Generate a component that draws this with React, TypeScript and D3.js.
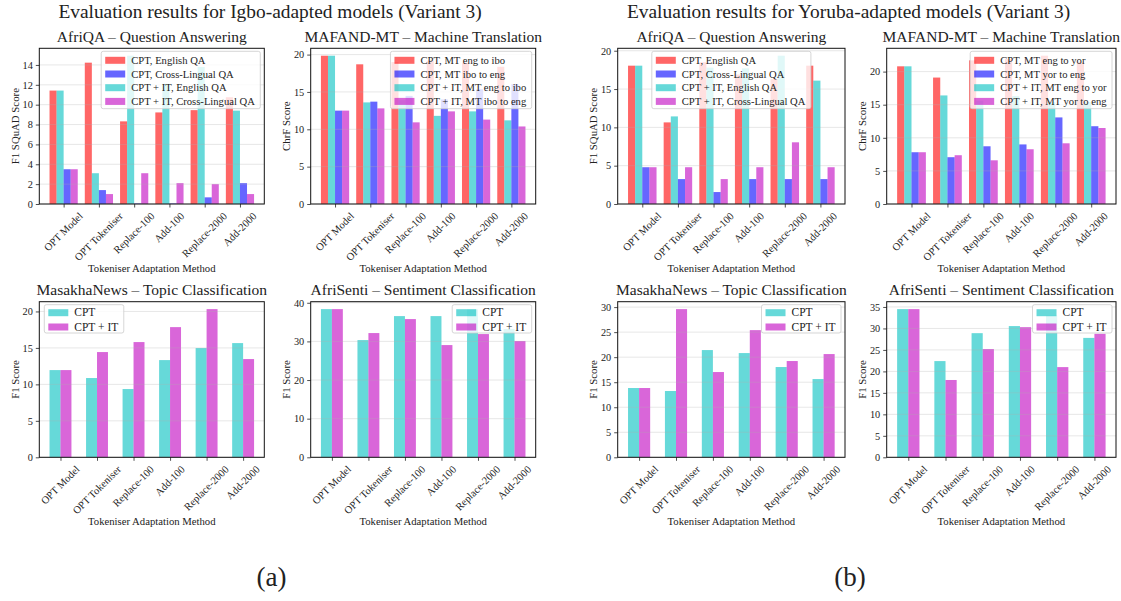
import React, { useEffect, useRef } from "react";
import * as d3 from "d3";

// ---------- data ----------
const categories = ["OPT Model", "OPT Tokeniser", "Replace-100", "Add-100", "Replace-2000", "Add-2000"];

// Igbo – AfriQA (F1 SQuAD)
const igboQaCptEnglish = [11.42, 14.23, 8.32, 9.22, 9.45, 10.75];
const igboQaCptCross = [3.5, 1.4, 0.05, 0.05, 0.67, 2.1];
const igboQaItEnglish = [11.42, 3.1, 14.93, 12.1, 13.8, 9.4];
const igboQaItCross = [3.5, 1.0, 3.1, 2.1, 2.0, 1.0];

// Igbo – MAFAND-MT (ChrF)
const igboMtCptEngIbo = [19.85, 18.7, 19.0, 19.2, 18.9, 18.37];
const igboMtCptIboEng = [12.5, 13.7, 14.47, 14.0, 15.36, 16.05];
const igboMtItEngIbo = [19.85, 13.6, 13.9, 11.8, 12.4, 11.2];
const igboMtItIboEng = [12.5, 12.8, 10.93, 12.4, 11.3, 10.38];

// Igbo – MasakhaNews (F1)
const igboNewsCpt = [11.96, 10.87, 9.36, 13.33, 14.98, 15.66];
const igboNewsIt = [11.96, 14.43, 15.8, 17.85, 20.32, 13.47];

// Igbo – AfriSenti (F1)
const igboSentiCpt = [38.36, 30.34, 36.55, 36.55, 38.3, 33.2];
const igboSentiIt = [38.36, 32.16, 35.78, 29.05, 31.9, 30.1];

// Yoruba – AfriQA (F1 SQuAD)
const yorQaCptEnglish = [18.05, 10.65, 18.5, 16.9, 16.3, 18.05];
const yorQaCptCross = [4.8, 3.25, 1.56, 3.25, 3.25, 3.25];
const yorQaItEnglish = [18.05, 11.43, 17.8, 17.7, 19.35, 16.1];
const yorQaItCross = [4.8, 4.8, 3.25, 4.8, 8.05, 4.8];

// Yoruba – MAFAND-MT (ChrF)
const yorMtCptEngYor = [20.8, 19.1, 21.7, 21.9, 22.4, 21.5];
const yorMtCptYorEng = [7.82, 7.07, 8.72, 9.0, 13.08, 11.75];
const yorMtItEngYor = [20.8, 16.4, 15.6, 16.3, 15.4, 15.4];
const yorMtItYorEng = [7.82, 7.37, 6.6, 8.27, 9.17, 11.48];

// Yoruba – MasakhaNews (F1)
const yorNewsCpt = [13.84, 13.24, 21.42, 20.82, 18.03, 15.63];
const yorNewsIt = [13.84, 29.6, 17.03, 25.4, 19.23, 20.62];

// Yoruba – AfriSenti (F1)
const yorSentiCpt = [34.5, 22.4, 28.9, 30.55, 33.0, 27.8];
const yorSentiIt = [34.5, 18.0, 25.2, 30.3, 21.0, 28.75];

// tick labels
const ticksQaIgbo = [0, 2, 4, 6, 8, 10, 12, 14];
const ticks0to20by5 = [0, 5, 10, 15, 20];
const ticks0to40by10 = [0, 10, 20, 30, 40];
const ticks0to30by5 = [0, 5, 10, 15, 20, 25, 30];
const ticks0to35by5 = [0, 5, 10, 15, 20, 25, 30, 35];

// ---------- styling / layout ----------
const RED = "#ff0000";
const BLUE = "#0000ff";
const CYAN = "#00bfbf";
const MAG = "#bf00bf";
const FONT = "'Liberation Serif', 'Times New Roman', serif";
const TXT = "#222";

type Series = { label: string; color: string; values: number[] };
type Panel = {
  title: string;
  ylabel: string;
  bars: Series[];
  legend: number[];
  loc: "ur" | "ul" | "uc";
  ticks: number[];
  box: [number, number, number, number];
};

const TOP: [number, number] = [48.3, 204];
const BOT: [number, number] = [301.7, 457.3];

const panels: Panel[] = [
  {
    title: "AfriQA – Question Answering",
    ylabel: "F1 SQuAD Score",
    bars: [
      { label: "CPT, English QA", color: RED, values: igboQaCptEnglish },
      { label: "CPT + IT, English QA", color: CYAN, values: igboQaItEnglish },
      { label: "CPT, Cross-Lingual QA", color: BLUE, values: igboQaCptCross },
      { label: "CPT + IT, Cross-Lingual QA", color: MAG, values: igboQaItCross },
    ],
    legend: [0, 2, 1, 3],
    loc: "ur",
    ticks: ticksQaIgbo,
    box: [39.3, TOP[0], 264.3, TOP[1]],
  },
  {
    title: "MAFAND-MT – Machine Translation",
    ylabel: "ChrF Score",
    bars: [
      { label: "CPT, MT eng to ibo", color: RED, values: igboMtCptEngIbo },
      { label: "CPT + IT, MT eng to ibo", color: CYAN, values: igboMtItEngIbo },
      { label: "CPT, MT ibo to eng", color: BLUE, values: igboMtCptIboEng },
      { label: "CPT + IT, MT ibo to eng", color: MAG, values: igboMtItIboEng },
    ],
    legend: [0, 2, 1, 3],
    loc: "ur",
    ticks: ticks0to20by5,
    box: [310.7, TOP[0], 535.7, TOP[1]],
  },
  {
    title: "AfriQA – Question Answering",
    ylabel: "F1 SQuAD Score",
    bars: [
      { label: "CPT, English QA", color: RED, values: yorQaCptEnglish },
      { label: "CPT + IT, English QA", color: CYAN, values: yorQaItEnglish },
      { label: "CPT, Cross-Lingual QA", color: BLUE, values: yorQaCptCross },
      { label: "CPT + IT, Cross-Lingual QA", color: MAG, values: yorQaItCross },
    ],
    legend: [0, 2, 1, 3],
    loc: "uc",
    ticks: ticks0to20by5,
    box: [617.7, TOP[0], 845, TOP[1]],
  },
  {
    title: "MAFAND-MT – Machine Translation",
    ylabel: "ChrF Score",
    bars: [
      { label: "CPT, MT eng to yor", color: RED, values: yorMtCptEngYor },
      { label: "CPT + IT, MT eng to yor", color: CYAN, values: yorMtItEngYor },
      { label: "CPT, MT yor to eng", color: BLUE, values: yorMtCptYorEng },
      { label: "CPT + IT, MT yor to eng", color: MAG, values: yorMtItYorEng },
    ],
    legend: [0, 2, 1, 3],
    loc: "ur",
    ticks: ticks0to20by5,
    box: [886.7, TOP[0], 1116, TOP[1]],
  },
  {
    title: "MasakhaNews – Topic Classification",
    ylabel: "F1 Score",
    bars: [
      { label: "CPT", color: CYAN, values: igboNewsCpt },
      { label: "CPT + IT", color: MAG, values: igboNewsIt },
    ],
    legend: [0, 1],
    loc: "ul",
    ticks: ticks0to20by5,
    box: [39.3, BOT[0], 264.3, BOT[1]],
  },
  {
    title: "AfriSenti – Sentiment Classification",
    ylabel: "F1 Score",
    bars: [
      { label: "CPT", color: CYAN, values: igboSentiCpt },
      { label: "CPT + IT", color: MAG, values: igboSentiIt },
    ],
    legend: [0, 1],
    loc: "ur",
    ticks: ticks0to40by10,
    box: [310.7, BOT[0], 535.7, BOT[1]],
  },
  {
    title: "MasakhaNews – Topic Classification",
    ylabel: "F1 Score",
    bars: [
      { label: "CPT", color: CYAN, values: yorNewsCpt },
      { label: "CPT + IT", color: MAG, values: yorNewsIt },
    ],
    legend: [0, 1],
    loc: "ur",
    ticks: ticks0to30by5,
    box: [617.7, BOT[0], 845, BOT[1]],
  },
  {
    title: "AfriSenti – Sentiment Classification",
    ylabel: "F1 Score",
    bars: [
      { label: "CPT", color: CYAN, values: yorSentiCpt },
      { label: "CPT + IT", color: MAG, values: yorSentiIt },
    ],
    legend: [0, 1],
    loc: "ur",
    ticks: ticks0to35by5,
    box: [886.7, BOT[0], 1116, BOT[1]],
  },
];

const figTitles = [
  { text: "Evaluation results for Igbo-adapted models (Variant 3)", x: 270, sub: "(a)" },
  { text: "Evaluation results for Yoruba-adapted models (Variant 3)", x: 848.5, sub: "(b)" },
];

export default function App() {
  const ref = useRef<SVGSVGElement>(null);

  useEffect(() => {
    const svg = d3.select(ref.current);
    svg.selectAll("*").remove();

    figTitles.forEach((f) => {
      svg.append("text").text(f.text).attr("x", f.x).attr("y", 17.5)
        .attr("text-anchor", "middle").attr("font-family", FONT).attr("font-size", 19.4).attr("fill", TXT);
      svg.append("text").text(f.sub).attr("x", f.x + 1.5).attr("y", 586)
        .attr("text-anchor", "middle").attr("font-family", FONT).attr("font-size", 27).attr("fill", TXT);
    });

    panels.forEach((p) => {
      const [l, t, r, b] = p.box;
      const isTop = p.bars.length === 4;
      const n = p.bars.length;
      const bw = isTop ? 0.2 : 0.3;
      const half = (n * bw) / 2;
      const lo = -half;
      const hi = categories.length - 1 + half;
      const m = 0.05 * (hi - lo);
      const x = d3.scaleLinear().domain([lo - m, hi + m]).range([l, r]);
      const maxV = d3.max(p.bars.flatMap((s) => s.values)) as number;
      const y = d3.scaleLinear().domain([0, maxV * 1.05]).range([b, t]);
      const g = svg.append("g");

      // bars
      p.bars.forEach((s, si) => {
        const off = (si - (n - 1) / 2) * bw;
        g.append("g").selectAll("rect").data(s.values).join("rect")
          .attr("x", (_d, i) => x(i + off - bw / 2))
          .attr("width", x(bw) - x(0))
          .attr("y", (d) => y(d))
          .attr("height", (d) => y(0) - y(d))
          .attr("fill", s.color)
          .attr("fill-opacity", 0.6);
      });

      // grid (drawn above bars like matplotlib)
      g.append("g").selectAll("line").data(p.ticks).join("line")
        .attr("x1", l).attr("x2", r)
        .attr("y1", (d) => y(d)).attr("y2", (d) => y(d))
        .attr("stroke", "#b0b0b0").attr("stroke-opacity", 0.3).attr("stroke-width", 1);

      // y axis
      const ya = g.append("g").attr("transform", `translate(${l},0)`)
        .call(d3.axisLeft(y).tickValues(p.ticks).tickSize(3.5).tickPadding(3).tickFormat(d3.format("d")) as any);
      ya.select(".domain").remove();
      ya.attr("font-family", FONT).attr("font-size", 10.3);
      ya.selectAll("line").attr("stroke", "#222").attr("stroke-width", 0.8);
      ya.selectAll("text").attr("fill", TXT);

      // x axis
      const fs = 10.5;
      const xa = g.append("g").attr("transform", `translate(0,${b})`)
        .call(d3.axisBottom(x).tickValues(d3.range(categories.length)).tickSize(3.5)
          .tickFormat((i: any) => categories[i]) as any);
      xa.select(".domain").remove();
      xa.attr("font-family", FONT).attr("font-size", fs);
      xa.selectAll("line").attr("stroke", "#222").attr("stroke-width", 0.8);
      const asc = 0.7 * fs;
      const desc = 0.22 * fs;
      xa.selectAll<SVGTextElement, unknown>("text").each(function () {
        const w = this.getComputedTextLength();
        const ex = 0.3535 * (w + asc - desc);
        const ey = 7.5 + 0.707 * asc;
        d3.select(this).attr("dy", null).attr("x", ex).attr("y", ey)
          .attr("text-anchor", "end").attr("fill", TXT)
          .attr("transform", `rotate(-45, ${ex}, ${ey})`);
      });

      // spines
      g.append("rect").attr("x", l).attr("y", t).attr("width", r - l).attr("height", b - t)
        .attr("fill", "none").attr("stroke", "#111").attr("stroke-width", 1);

      // titles
      g.append("text").text(p.title).attr("x", (l + r) / 2).attr("y", t - 6.5)
        .attr("text-anchor", "middle").attr("font-family", FONT).attr("font-size", 15.5).attr("fill", TXT);
      g.append("text").text("Tokeniser Adaptation Method").attr("x", (l + r) / 2).attr("y", isTop ? 272 : 525)
        .attr("text-anchor", "middle").attr("font-family", FONT).attr("font-size", 10.7).attr("fill", TXT);
      const yl = l - 20.5;
      const yc = (t + b) / 2;
      g.append("text").text(p.ylabel).attr("x", yl).attr("y", yc)
        .attr("text-anchor", "middle").attr("transform", `rotate(-90, ${yl}, ${yc})`)
        .attr("font-family", FONT).attr("font-size", 10.8).attr("fill", TXT);

      // legend
      const fsL = isTop ? 10.6 : 11.5;
      const rowH = isTop ? 13.7 : 14.3;
      const first = isTop ? 9 : 8;
      const entries = p.legend.map((i) => p.bars[i]);
      const lg = g.append("g");
      const frame = lg.append("rect");
      let tw = 0;
      entries.forEach((s, k) => {
        const cy = first + rowH * k;
        lg.append("rect").attr("x", 4).attr("y", cy - 3.5).attr("width", 20).attr("height", 7)
          .attr("fill", s.color).attr("fill-opacity", 0.6);
        const tx = lg.append("text").text(s.label).attr("x", 30).attr("y", cy + 3.6)
          .attr("font-family", FONT).attr("font-size", fsL).attr("fill", TXT);
        tw = Math.max(tw, (tx.node() as SVGTextElement).getComputedTextLength());
      });
      const lw = 30 + tw + 5.5;
      const lh = first + rowH * (entries.length - 1) + (isTop ? 7.3 : 6);
      frame.attr("x", 0).attr("y", 0).attr("width", lw).attr("height", lh).attr("rx", 2)
        .attr("fill", "#fff").attr("fill-opacity", 0.8).attr("stroke", "#cccccc").attr("stroke-width", 0.8);
      let lx = r - 4 - lw;
      if (p.loc === "ul") lx = l + 5;
      if (p.loc === "uc") lx = (l + r) / 2 - lw / 2;
      lg.attr("transform", `translate(${lx},${t + 3})`);
    });
  }, []);

  return (
    <svg
      ref={ref}
      width={1121}
      height={601}
      style={{ position: "absolute", left: 0, top: 0, background: "#fff" }}
    />
  );
}
